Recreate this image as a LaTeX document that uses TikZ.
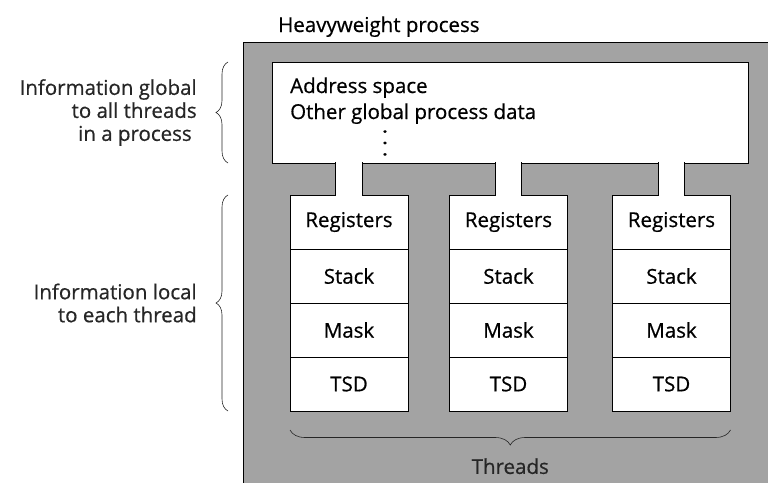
\documentclass[tikz,border=0pt]{standalone}
\usepackage{fontspec}
\setmainfont{Open Sans}[FakeBold=0.6]
\usetikzlibrary{positioning,decorations.pathreplacing}
\definecolor{procgray}{gray}{0.64}
\begin{document}
\begin{tikzpicture}[x=1pt,y=-1pt,font=\fontsize{20.5}{23}\selectfont,
	cell/.style={draw,fill=white,line width=.8pt,minimum width=118pt,minimum height=54pt,inner sep=0pt,outer sep=0pt},
	neck/.style={draw=black,line width=.8pt,double=white,double distance=25.5pt,shorten <=-.6pt,shorten >=-.6pt},
	brc/.style={decorate,decoration={brace,amplitude=12pt},line width=.6pt,black!85}]
	\useasboundingbox (0,0) rectangle (768,482);
	\node[draw,fill=procgray,line width=.8pt,minimum width=540pt,minimum height=450pt,outer sep=0pt,anchor=north west] (proc) at (243,42) {};
	\node[anchor=base west,inner sep=0pt] (ptitle) at ([xshift=35pt,yshift=10pt]proc.north west) {Heavyweight process};
	\node[draw,fill=white,line width=.8pt,minimum width=476pt,minimum height=101pt,outer sep=0pt] (glob) at (510,112.5) {};
	\node[anchor=base west,inner sep=0pt] (addr) at ([xshift=18pt,yshift=-31pt]glob.north west) {Address space};
	\node[anchor=base west,inner sep=0pt] (other) at ([yshift=-26pt]addr.base west) {Other global process data};
	\node[rotate=-90,inner sep=0pt] (dots) at (385,143) {.\hspace{6pt}.\hspace{6pt}.};
	\foreach \i/\cx in {1/349,2/508.5,3/671.5}{
		\node[cell] (reg\i) at (\cx,222) {Registers};
		\node[cell,below=0pt of reg\i] (stk\i) {Stack};
		\node[cell,below=0pt of stk\i] (msk\i) {Mask};
		\node[cell,below=0pt of msk\i] (tsd\i) {TSD};
		\draw[neck] (glob.south -| reg\i.north) -- (reg\i.north);
	}
	\draw[brc] ([xshift=-44pt]glob.south west) -- ([xshift=-44pt]glob.north west)
		node[midway,left=31pt,align=right,inner sep=0pt] (glab) {Information global\\to all threads\hspace*{5pt}\\in a process\hspace*{5pt}};
	\draw[brc] ([xshift=-62pt]tsd1.south west) -- ([xshift=-62pt]reg1.north west)
		node[midway,left=31pt,align=right,inner sep=0pt] (llab) {Information local\\to each thread};
	\draw[brc,decoration={amplitude=15pt}] ([yshift=-19pt]tsd3.south east) -- ([yshift=-19pt]tsd1.south west)
		node[midway,below=28pt,inner sep=0pt] (thr) {Threads};
\end{tikzpicture}
\end{document}
